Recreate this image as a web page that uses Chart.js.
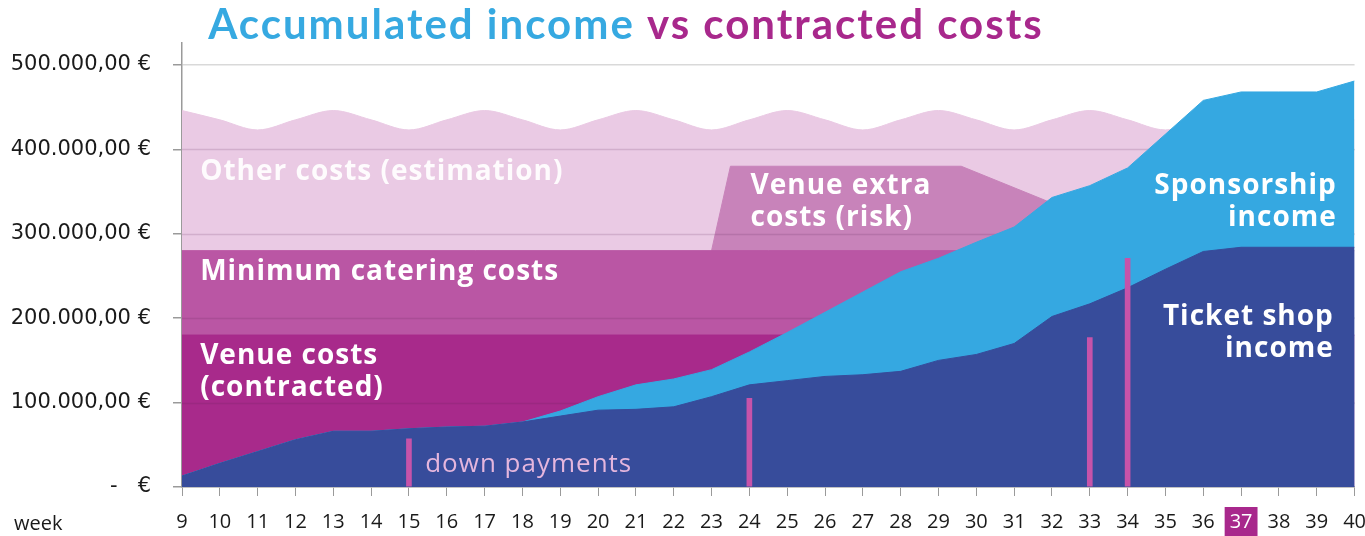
<!DOCTYPE html>
<html>
<head>
<meta charset="utf-8">
<title>Accumulated income vs contracted costs</title>
<script src="https://cdn.jsdelivr.net/npm/chart.js@4.4.0/dist/chart.umd.min.js"></script>
<style>
  html, body { margin: 0; padding: 0; background: #fff; overflow: hidden; }
  #wrap { width: 1365px; height: 536px; overflow: hidden; }
</style>
</head>
<body>
<div id="wrap"><canvas id="income-chart" width="1380" height="536"></canvas></div>
<script>
// week numbers on the x axis
const weeks = [9, 10, 11, 12, 13, 14, 15, 16, 17, 18, 19, 20, 21, 22, 23, 24,
  25, 26, 27, 28, 29, 30, 31, 32, 33, 34, 35, 36, 37, 38, 39, 40];

// income (€), accumulated
const ticketIncome = [13000, 28000, 42000, 56000, 66000, 66000, 69000, 71000, 72000, 77000, 84000, 91000,
  92000, 95000, 107000, 121000, 126000, 131000, 133000, 137000, 150000, 157000, 170000, 202000,
  217000, 236000, 258000, 279000, 284000, 284000, 284000, 284000];
const sponsorIncome = [0, 0, 0, 0, 0, 0, 0, 0, 0, 0, 6000, 16000,
  29000, 33000, 32000, 39000, 57000, 76000, 98000, 118000, 121000, 133000, 138000, 141000,
  140000, 142000, 160000, 179000, 184000, 184000, 184000, 197000];

// costs (€)
const venueCosts = 180000;
const cateringCosts = 100000;
const otherCosts = [166000, 155000, 143000, 155000, 166000, 155000, 143000, 155000, 166000, 155000, 143000, 155000,
  166000, 155000, 143000, 155000, 166000, 155000, 143000, 155000, 166000, 155000, 143000, 155000,
  166000, 155000, 143000, 155000, 166000, 155000, 143000, 155000];
const extraWeeks = [23, 23.5, 29.6, 31.8, 35];
const extraCosts = [0, 100000, 100000, 60000, 0];

// down payments
const downPayWeeks = [15, 24, 33, 34];
const downPayValues = [57000, 105000, 177000, 271000];

const yTicks = [0, 100000, 200000, 300000, 400000, 500000];
const highlightWeek = 37;

const fmtEuro = (v) => {
  if (v === 0) return "-   €";
  const s = Math.round(v).toString().replace(/\B(?=(\d{3})+(?!\d))/g, ".");
  return s + ",00 €";
};

const cateringTop = venueCosts + cateringCosts;
const pts = (xs, ys) => xs.map((x, i) => ({ x: x, y: ys[i] }));

const totalIncome = ticketIncome.map((v, i) => v + sponsorIncome[i]);
const otherTop = otherCosts.map((v) => v + cateringTop);
const extraTop = extraCosts.map((v) => v + cateringTop);

const areaLabels = [
  { lines: ["Other costs (estimation)"], week: 9.48, value: 373000, align: "left", color: "rgba(255,255,255,0.92)" },
  { lines: ["Minimum catering costs"], week: 9.48, value: 255000, align: "left", color: "#ffffff" },
  { lines: ["Venue costs", "(contracted)"], week: 9.48, value: 155000, align: "left", color: "#ffffff" },
  { lines: ["Venue extra", "costs (risk)"], week: 24.03, value: 356000, align: "left", color: "#ffffff" },
  { lines: ["Sponsorship", "income"], week: 39.53, value: 356000, align: "right", color: "#ffffff" },
  { lines: ["Ticket shop", "income"], week: 39.45, value: 201000, align: "right", color: "#ffffff" },
];

const labelPlugin = {
  id: "areaLabels",
  afterDatasetsDraw(chart) {
    const ctx = chart.ctx;
    const x = chart.scales.x;
    const y = chart.scales.y;
    ctx.save();
    ctx.textBaseline = "middle";
    ctx.font = "bold 28px 'Open Sans'";
    ctx.letterSpacing = "1px";
    for (let lab of areaLabels) {
      ctx.fillStyle = lab.color;
      ctx.textAlign = lab.align;
      lab.lines.forEach((t, i) => {
        ctx.fillText(t, x.getPixelForValue(lab.week), y.getPixelForValue(lab.value) + i * 32);
      });
    }
    ctx.font = "26px 'Open Sans'";
    ctx.fillStyle = "#e5b6dd";
    ctx.textAlign = "left";
    ctx.fillText("down payments", x.getPixelForValue(15.43), y.getPixelForValue(27000));

    // title in two colours
    ctx.font = "bold 42px Lato";
    ctx.letterSpacing = "2px";
    ctx.textBaseline = "alphabetic";
    const partA = "Accumulated income ";
    const partB = "vs contracted costs";
    const wA = ctx.measureText(partA).width;
    const wB = ctx.measureText(partB).width;
    const startX = 626 - (wA + wB) / 2;
    ctx.fillStyle = "#36a9e1";
    ctx.fillText(partA, startX, 39);
    ctx.fillStyle = "#a8288c";
    ctx.fillText(partB, startX + wA, 39);

    ctx.letterSpacing = "0px";
    ctx.font = "20px 'Open Sans'";
    ctx.fillStyle = "#1a1a1a";
    ctx.textBaseline = "middle";
    ctx.fillText("week", 14, 524);
    ctx.restore();
  },
};

// grid lines show through the cost areas but not through the income areas
const costGridPlugin = {
  id: "costGrid",
  afterDatasetDraw(chart, args) {
    if (chart.data.datasets[args.index].label !== "Venue costs") return;
    const ctx = chart.ctx;
    const area = chart.chartArea;
    const y = chart.scales.y;
    ctx.save();
    ctx.strokeStyle = "rgba(90, 30, 80, 0.16)";
    ctx.lineWidth = 1.5;
    for (let t of y.ticks) {
      if (t.value <= 0 || t.value >= 500000) continue;
      const py = Math.round(y.getPixelForValue(t.value)) + 0.5;
      ctx.beginPath();
      ctx.moveTo(area.left, py);
      ctx.lineTo(area.right, py);
      ctx.stroke();
    }
    ctx.restore();
  },
};

const areaSet = (label, data, color, order, extra) =>
  Object.assign(
    {
      type: "line",
      label: label,
      data: data,
      backgroundColor: color,
      borderColor: color,
      borderWidth: 1,
      pointRadius: 0,
      fill: "origin",
      tension: 0,
      order: order,
    },
    extra || {}
  );

new Chart(document.getElementById("income-chart").getContext("2d"), {
  type: "line",
  plugins: [labelPlugin, costGridPlugin],
  data: {
    datasets: [
      areaSet("Other costs", pts(weeks, otherTop), "#eacae4", 7, { cubicInterpolationMode: "monotone" }),
      areaSet("Venue extra costs", pts(extraWeeks, extraTop), "#c883ba", 6),
      areaSet("Minimum catering costs", pts([9, 40], [cateringTop, cateringTop]), "#ba56a4", 5),
      areaSet("Venue costs", pts([9, 40], [venueCosts, venueCosts]), "#a82a8b", 4),
      areaSet("Sponsorship income", pts(weeks, totalIncome), "#35a8e1", 3),
      areaSet("Ticket shop income", pts(weeks, ticketIncome), "#374c9b", 2),
      {
        type: "bar",
        label: "Down payments",
        data: pts(downPayWeeks, downPayValues),
        backgroundColor: "#c653a9",
        barThickness: 5,
        order: 1,
      },
    ],
  },
  options: {
    responsive: false,
    animation: false,
    layout: { padding: { top: 43 } },
    plugins: {
      legend: { display: false },
      tooltip: { enabled: false },
      title: { display: false },
    },
    scales: {
      x: {
        type: "linear",
        min: 9,
        max: 40,
        offset: false,
        afterFit: (scale) => {
          scale.height = 49;
        },
        grid: {
          offset: false,
          drawOnChartArea: false,
          drawTicks: true,
          tickLength: 9,
          color: "#9a9a9a",
        },
        border: { color: "#9a9a9a", width: 1.5 },
        ticks: {
          stepSize: 1,
          autoSkip: false,
          maxRotation: 0,
          padding: 14,
          font: { family: "'Open Sans'", size: 20 },
          color: (c) => (c.tick.value === highlightWeek ? "#ffffff" : "#1a1a1a"),
          showLabelBackdrop: (c) => c.tick.value === highlightWeek,
          backdropColor: "#a8288c",
          backdropPadding: { x: 5, y: 3 },
        },
      },
      y: {
        min: 0,
        max: 526000,
        afterFit: (scale) => {
          scale.width = 182;
        },
        afterBuildTicks: (scale) => {
          scale.ticks = yTicks.map((v) => ({ value: v }));
        },
        grid: {
          color: "#d9d9d9",
          tickColor: "#9a9a9a",
          tickLength: 9,
          lineWidth: 1.5,
        },
        border: { color: "#9a9a9a", width: 1.5 },
        ticks: {
          padding: 22,
          font: { family: "'DejaVu Sans'", size: 21 },
          color: "#1a1a1a",
          callback: (v) => fmtEuro(v),
        },
      },
    },
  },
});
</script>
</body>
</html>
